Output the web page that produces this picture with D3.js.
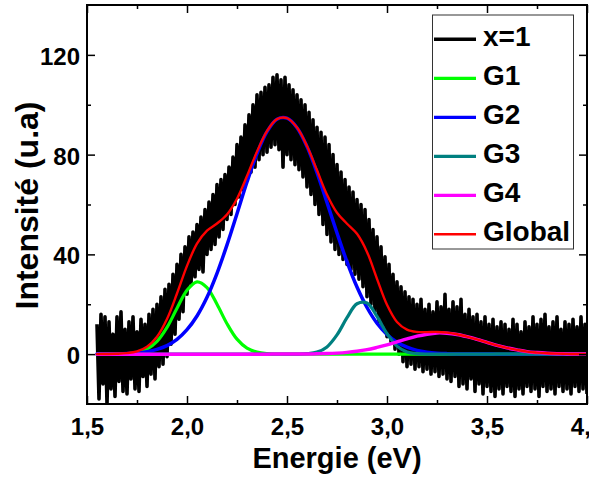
<!DOCTYPE html>
<html><head><meta charset="utf-8">
<script src="https://cdn.jsdelivr.net/npm/d3@7"></script>
<style>
html,body{margin:0;padding:0;background:#fff;}
svg{display:block;}
text{font-family:"Liberation Sans",Arial,Helvetica,sans-serif;font-weight:bold;fill:#000;}
</style>
</head><body>
<svg id="chart" width="589" height="481"></svg>
<script>
// ---------- data ----------
const xDomain = [1.5, 4.0];
const yDomain = [-20, 140];
const xMajorTicks = [1.5, 2.0, 2.5, 3.0, 3.5, 4.0];
const xTickLabels = ["1,5", "2,0", "2,5", "3,0", "3,5", "4,0"];
const xMinorTicks = [1.75, 2.25, 2.75, 3.25, 3.75];
const yMajorTicks = [0, 40, 80, 120];
const yTickLabels = ["0", "40", "80", "120"];
const yMinorTicks = [20, 60, 100];
const xTitle = "Energie (eV)";
const yTitle = "Intensité (u.a)";

// measured spectrum (x=1), first energy and step in eV
const dataStart = 1.55;
const dataStep = 0.01;
const rawData = [
  12,-18,16,-12,15,-20,13,-14,8,-17,
  15,-11,17,-15,10,-16,13,-10,15,-14,
  9,-15,14,-9,12,-13,16,-8,18,-10,
  20,-5,23,-4,26,-1,28,4,32,8,
  36,14,40,17,43,24,47,28,49,31,
  52,34,55,33,58,40,61,42,64,44,
  68,47,70,50,72,54,75,56,79,60,
  84,63,87,66,92,70,96,73,100,75,
  104,78,105,80,107,81,108,83,111,84,
  112,82,110,75,111,80,108,78,106,76,
  104,74,102,71,100,67,97,64,94,60,
  91,56,89,52,87,48,84,45,80,42,
  76,40,73,38,70,36,67,34,65,32,
  62,30,60,27,58,23,54,20,50,17,
  47,13,43,10,39,7,36,5,32,2,
  29,0,27,-3,25,-5,23,-4,22,-6,
  20,-5,22,-7,18,-6,20,-8,17,-7,
  21,-9,19,-8,24,-10,18,-11,21,-9,
  19,-13,22,-12,16,-14,18,-10,15,-15,
  16,-12,13,-16,15,-13,12,-15,14,-17,
  11,-14,13,-16,12,-13,10,-15,14,-17,
  12,-14,9,-16,13,-13,11,-15,15,-14,
  12,-17,14,-13,16,-15,11,-14,13,-16,
  15,-13,10,-15,13,-14,12,-16,14,-13,
  11,-15,15,-14,12,-16
];

// fitted curves, sampled energies (eV)
const fitE = [1.55,1.60,1.65,1.70,1.75,1.80,1.85,1.90,1.95,2.00,
  2.05,2.10,2.15,2.20,2.25,2.30,2.35,2.40,2.45,2.50,
  2.55,2.60,2.65,2.70,2.75,2.80,2.85,2.90,2.95,3.00,
  3.05,3.10,3.15,3.20,3.25,3.30,3.35,3.40,3.45,3.50,
  3.55,3.60,3.65,3.70,3.75,3.80,3.85,3.90,3.95,4.00];
const g1 = [0,0,0.03,0.16,0.62,2.0,5.1,10.7,18.4,25.6,
  29.0,26.7,20.0,12.2,6.0,2.4,0.8,0.2,0.04,0,
  0,0,0,0,0,0,0,0,0,0,
  0,0,0,0,0,0,0,0,0,0,
  0,0,0,0,0,0,0,0,0,0];
const g2 = [0.02,0.05,0.1,0.23,0.49,0.99,1.9,3.4,5.9,9.8,
  15.3,22.8,32.4,43.8,56.3,69.0,80.4,89.2,94.2,94.6,
  90.8,83.2,72.8,60.8,48.6,37.0,26.9,18.7,12.4,7.9,
  4.8,2.8,1.5,0.8,0.4,0.2,0.09,0.04,0.02,0.01,
  0,0,0,0,0,0,0,0,0,0];
const g3 = [0,0,0,0,0,0,0,0,0,0,
  0,0,0,0,0,0,0,0,0,0,
  0.02,0.17,0.8,2.9,7.7,14.6,20.2,20.5,15.1,8.2,
  3.2,0.9,0.19,0.03,0,0,0,0,0,0,
  0,0,0,0,0,0,0,0,0,0];
const g4 = [0,0,0,0,0,0,0,0,0,0,
  0,0,0,0,0,0,0,0,0.01,0.01,
  0.02,0.05,0.11,0.21,0.40,0.70,1.15,1.8,2.7,3.7,
  4.9,6.1,7.2,8.0,8.5,8.4,7.9,7.0,5.9,4.7,
  3.5,2.5,1.7,1.0,0.62,0.35,0.19,0.09,0.05,0.02];
const globalFit = [0.02,0.05,0.13,0.39,1.11,2.99,7.0,14.1,24.3,35.4,
  44.3,49.5,52.4,56.0,62.3,71.4,81.2,89.4,94.25,94.61,
  90.84,83.42,73.71,63.91,56.7,52.3,48.25,41.0,30.2,19.8,
  12.9,9.8,8.89,8.83,8.9,8.6,7.99,7.04,5.92,4.71,
  3.5,2.5,1.7,1.0,0.62,0.35,0.19,0.09,0.05,0.02];

const seriesNames = ["x=1", "G1", "G2", "G3", "G4", "Global"];
const seriesColors = ["#000000", "#00ff00", "#0000ff", "#008080", "#ff00ff", "#ff0000"];
const seriesWidths = [3.5, 3.2, 3.5, 3.2, 3.5, 2.4];

// ---------- chart ----------
const W = 589, H = 481;
const plot = {left: 87, right: 587, top: 5, bottom: 404};
const svg = d3.select("#chart");
svg.append("rect").attr("width", W).attr("height", H).attr("fill", "#fff");

const x = d3.scaleLinear().domain(xDomain).range([plot.left, plot.right]);
const y = d3.scaleLinear().domain(yDomain).range([plot.bottom, plot.top]);

svg.append("clipPath").attr("id", "clip").append("rect")
  .attr("x", plot.left).attr("y", plot.top)
  .attr("width", plot.right - plot.left).attr("height", plot.bottom - plot.top);

const gPlot = svg.append("g").attr("clip-path", "url(#clip)");

// measured data
const dataPts = rawData.map((v, i) => [dataStart + i * dataStep, v]);
gPlot.append("path").datum(dataPts)
  .attr("fill", "none").attr("stroke", seriesColors[0])
  .attr("stroke-width", 3.6).attr("stroke-linejoin", "round")
  .attr("d", d3.line().x(d => x(d[0])).y(d => y(d[1])));

// fit curves
const fitLine = d3.line().x(d => x(d[0])).y(d => y(d[1])).curve(d3.curveCatmullRom.alpha(0.5));
const fits = [g1, g2, g3, g4, globalFit];
fits.forEach((arr, k) => {
  gPlot.append("path").datum(arr.map((v, i) => [fitE[i], v]))
    .attr("fill", "none").attr("stroke", seriesColors[k + 1])
    .attr("stroke-width", seriesWidths[k + 1])
    .attr("stroke-linejoin", "round").attr("stroke-linecap", "round")
    .attr("d", fitLine);
});

// axes
function styleAxis(g, fontSize) {
  g.select(".domain").remove();
  g.selectAll(".tick line").attr("stroke", "#000").attr("stroke-width", 1.5);
  g.attr("font-family", '"Liberation Sans",Arial,sans-serif').attr("font-size", fontSize).attr("font-weight", "bold");
  g.selectAll(".tick text").attr("fill", "#000");
}
const gx = svg.append("g").attr("transform", `translate(0,${plot.bottom})`)
  .call(d3.axisBottom(x).tickValues(xMajorTicks).tickFormat((d, i) => xTickLabels[i])
    .tickSizeInner(-8).tickSizeOuter(0).tickPadding(14));
styleAxis(gx, 24);
const gxm = svg.append("g").attr("transform", `translate(0,${plot.bottom})`)
  .call(d3.axisBottom(x).tickValues(xMinorTicks).tickFormat("").tickSizeInner(-4).tickSizeOuter(0));
styleAxis(gxm, 24);
const gxt = svg.append("g").attr("transform", `translate(0,${plot.top})`)
  .call(d3.axisTop(x).tickValues(xMajorTicks).tickFormat("").tickSizeInner(-8).tickSizeOuter(0));
styleAxis(gxt, 24);
const gxtm = svg.append("g").attr("transform", `translate(0,${plot.top})`)
  .call(d3.axisTop(x).tickValues(xMinorTicks).tickFormat("").tickSizeInner(-4).tickSizeOuter(0));
styleAxis(gxtm, 24);

const gy = svg.append("g").attr("transform", `translate(${plot.left},0)`)
  .call(d3.axisLeft(y).tickValues(yMajorTicks).tickFormat((d, i) => yTickLabels[i])
    .tickSizeInner(-8).tickSizeOuter(0).tickPadding(7));
styleAxis(gy, 24);
gy.selectAll(".tick text").attr("dy", "0.39em");
const gym = svg.append("g").attr("transform", `translate(${plot.left},0)`)
  .call(d3.axisLeft(y).tickValues(yMinorTicks).tickFormat("").tickSizeInner(-4).tickSizeOuter(0));
styleAxis(gym, 24);
const gyr = svg.append("g").attr("transform", `translate(${plot.right},0)`)
  .call(d3.axisRight(y).tickValues(yMajorTicks).tickFormat("").tickSizeInner(-8).tickSizeOuter(0));
styleAxis(gyr, 24);
const gyrm = svg.append("g").attr("transform", `translate(${plot.right},0)`)
  .call(d3.axisRight(y).tickValues(yMinorTicks).tickFormat("").tickSizeInner(-4).tickSizeOuter(0));
styleAxis(gyrm, 24);

// frame
svg.append("rect").attr("x", plot.left).attr("y", plot.top)
  .attr("width", plot.right - plot.left).attr("height", plot.bottom - plot.top)
  .attr("fill", "none").attr("stroke", "#000").attr("stroke-width", 2);

// titles
svg.append("text").attr("x", (plot.left + plot.right) / 2).attr("y", 468)
  .attr("text-anchor", "middle").attr("font-size", 29).text(xTitle);
svg.append("text").attr("transform", `translate(37.5,${(plot.top + plot.bottom) / 2 + 1}) rotate(-90)`)
  .attr("text-anchor", "middle").attr("font-size", 32).text(yTitle);

// legend
const lg = svg.append("g");
lg.append("rect").attr("x", 432.5).attr("y", 15).attr("width", 141).attr("height", 234)
  .attr("fill", "#fff").attr("stroke", "#333").attr("stroke-width", 1);
seriesNames.forEach((name, i) => {
  const yy = 39.3 + i * 39;
  lg.append("line").attr("x1", 434).attr("x2", 476).attr("y1", yy).attr("y2", yy)
    .attr("stroke", seriesColors[i]).attr("stroke-width", i === 0 ? 3.6 : (i === 5 ? 2.4 : 3.2));
  lg.append("text").attr("x", 483).attr("y", yy + 7).attr("font-size", 28).text(name);
});
</script>
</body></html>
